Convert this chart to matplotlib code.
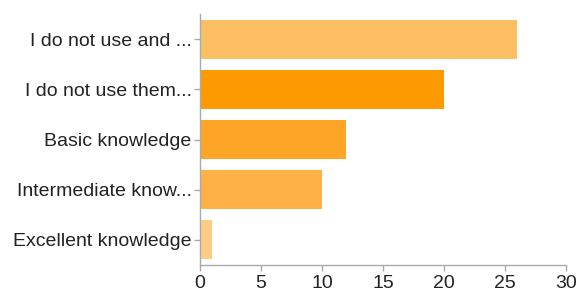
import matplotlib.pyplot as plt

categories = ["I do not use and ...", "I do not use them...", "Basic knowledge",
              "Intermediate know...", "Excellent knowledge"]
counts = [26, 20, 12, 10, 1]
colors = ["#FDBF64", "#FE9A01", "#FEA527", "#FEB146", "#FECC86"]

plt.rcParams['font.family'] = ['Liberation Sans', 'DejaVu Sans']

fig = plt.figure(figsize=(5.77, 2.94), dpi=100)
ax = fig.add_axes([0.3466, 0.0986, 0.6344, 0.8534])

ypos = list(range(len(categories)))
ax.barh(ypos, counts, height=0.78, color=colors, edgecolor="none")
ax.set_yticks(ypos)
ax.set_yticklabels(categories)
ax.set_ylim(4.5, -0.5)
ax.set_xlim(0, 30)
ax.set_xticks([0, 5, 10, 15, 20, 25, 30])

for side in ["top", "right"]:
    ax.spines[side].set_visible(False)
for side in ["left", "bottom"]:
    ax.spines[side].set_color("#aaaaaa")
    ax.spines[side].set_linewidth(1)
ax.tick_params(axis="both", colors="#aaaaaa", length=4, width=1, labelsize=14,
               labelcolor="#222222")
ax.tick_params(axis="y", pad=2)
ax.tick_params(axis="x", pad=3)

fig.savefig("out.png", dpi=100)
